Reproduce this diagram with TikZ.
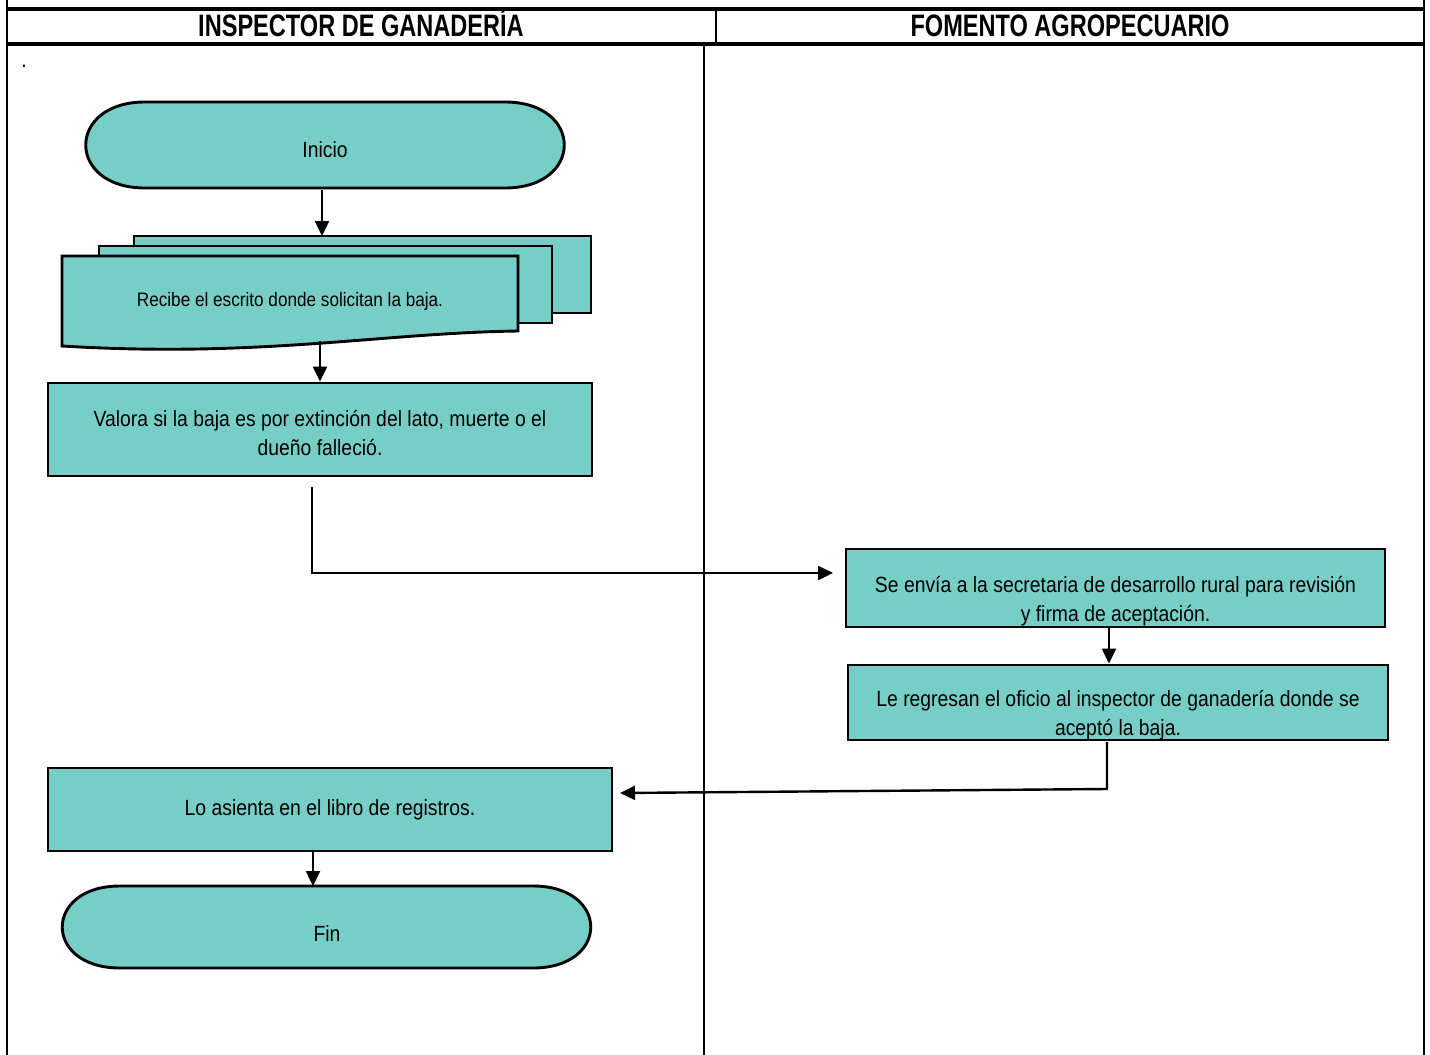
\documentclass[tikz,border=0pt]{standalone}
\usepackage{fontspec}
\setmainfont{Liberation Sans}[FakeStretch=0.88]
\newfontfamily\headfont{Liberation Sans}[FakeStretch=0.76]
\usetikzlibrary{arrows.meta,calc}
\definecolor{teal1}{HTML}{76CEC7}
\tikzset{
  frame/.style={line width=2.4pt},
  thick frame/.style={line width=3.4pt},
  boxst/.style={draw, line width=2.9pt, fill=teal1, rectangle, inner sep=0pt},
  txt/.style={align=center, font=\fontsize{22}{29}\selectfont, inner sep=0pt},
  small txt/.style={align=center, font=\fontsize{19.5}{24}\selectfont, inner sep=0pt},
  head/.style={font=\headfont\fontsize{31}{34}\selectfont\bfseries, inner sep=0pt, anchor=base},
  term/.style={draw, line width=2.9pt, fill=teal1},
  arr/.style={line width=2.4pt, -{Triangle[length=15pt,width=14pt]}},
}
\begin{document}
\begin{tikzpicture}[x=1pt,y=-1pt]
\useasboundingbox (0,0) rectangle (1430,1055);
% frame
\draw[frame] (7,0) -- (7,1055);
\draw[frame] (1424,0) -- (1424,1055);
\draw[thick frame] (7,9) -- (1424,9);
\draw[thick frame] (7,44) -- (1424,44);
\draw[frame] (716,9) -- (716,44);
\draw[frame] (704,44) -- (704,1055);
\node[head] (h1) at (361,36) {INSPECTOR DE GANADERÍA};
\node[head] (h2) at (1070,36) {FOMENTO AGROPECUARIO};
\node[txt] (dot) at (24,66) {.};
% Inicio terminal
\draw[term] (145,102) -- (505,102) .. controls (584,102) and (584,188) .. (505,188) -- (145,188) .. controls (66,188) and (66,102) .. (145,102) -- cycle;
\node[txt] (inicio) at (325,150) {Inicio};
% multi-document
\draw[boxst] (134,236) rectangle (591,313);
\draw[boxst] (99,246) rectangle (552,323);
\draw[boxst] (62,256) -- (518,256) -- (518,331) .. controls (380,333) and (260,358) .. (62,346) -- cycle;
\node[small txt] (recibe) at (290,301) {Recibe el escrito donde solicitan la baja.};
\coordinate (backtop) at (322,236);
\coordinate (docb) at (320,341);
% Valora
\node[boxst, minimum width=544pt, minimum height=93pt] (valora) at (320,429.5) {};
\node[txt] (valoratxt) at (320,433) {Valora si la baja es por extinción del lato, muerte o el\\dueño falleció.};
% Se envia
\node[boxst, minimum width=539pt, minimum height=78pt] (envia) at (1115.5,588) {};
\node[txt] (enviatxt) at (1115.5,601) {Se envía a la secretaria de desarrollo rural para revisión\\y firma de aceptación.};
% Le regresan
\node[boxst, minimum width=540pt, minimum height=75pt] (regresa) at (1118,702.5) {};
\node[txt] (regresatxt) at (1118,715) {Le regresan el oficio al inspector de ganadería donde se\\aceptó la baja.};
% Lo asienta
\node[boxst, minimum width=564pt, minimum height=83pt] (asienta) at (330,809.5) {};
\node[txt] (asientatxt) at (330,810) {Lo asienta en el libro de registros.};
% Fin terminal
\draw[term] (120,886) -- (533,886) .. controls (610,886) and (610,968) .. (533,968) -- (120,968) .. controls (43,968) and (43,886) .. (120,886) -- cycle;
\node[txt] (fin) at (327,934) {Fin};
\coordinate (finTop) at (313,886);
\coordinate (inicioBot) at (322,190);
% connectors
\draw[arr] (inicioBot) -- (backtop);
\draw[arr] (docb) -- (docb |- valora.north);
\coordinate (v1) at (312,487);
\coordinate (e1) at (833,573);
\draw[arr] (v1) |- (e1);
\draw[arr] (envia.south -| 1109,0) -- (regresa.north -| 1109,0);
\coordinate (r1) at (1107,742);
\coordinate (r2) at (1107,789);
\coordinate (a1) at (620,793);
\draw[arr] (r1) -- (r2) -- (a1);
\draw[arr] (asienta.south -| finTop) -- (finTop);
\end{tikzpicture}
\end{document}
